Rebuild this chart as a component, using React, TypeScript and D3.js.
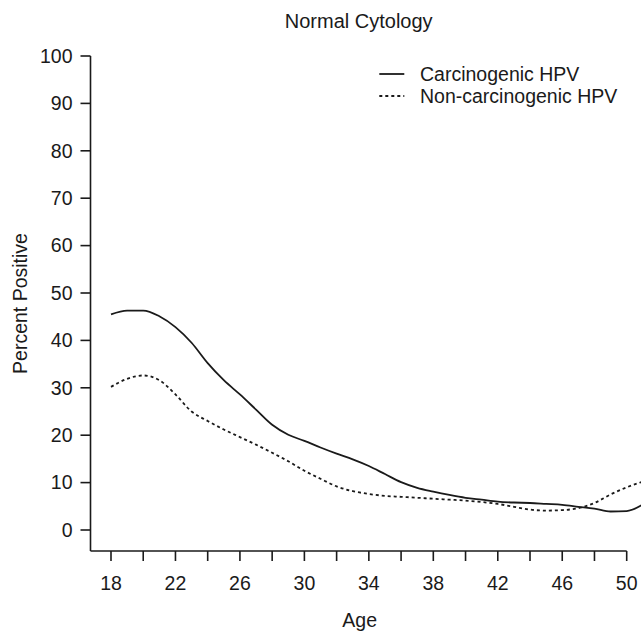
import React from "react";
import * as d3 from "d3";

const ages = [18,19,20,21,22,23,24,25,26,27,28,29,30,31,32,33,34,35,36,37,38,39,40,41,42,43,44,45,46,47,48,49,50,51];
const carcinogenic = [45.5,46.3,46.3,45.1,42.8,39.5,35.2,31.6,28.6,25.4,22.2,20.1,18.8,17.4,16.1,14.9,13.5,11.8,10.1,8.9,8.1,7.4,6.8,6.4,6.0,5.8,5.7,5.5,5.3,4.9,4.5,3.9,4.0,5.4];
const nonCarcinogenic = [30.2,31.9,32.6,31.6,28.6,25.0,23.0,21.2,19.6,18.0,16.3,14.5,12.5,10.8,9.2,8.2,7.6,7.2,7.0,6.8,6.6,6.4,6.2,5.9,5.5,4.9,4.3,4.1,4.2,4.6,5.7,7.5,9.0,10.2];
const xTicks = [18,20,22,24,26,28,30,32,34,36,38,40,42,44,46,48,50];
const xLabels = [18,22,26,30,34,38,42,46,50];
const yTicks = [0,10,20,30,40,50,60,70,80,90,100];
const seriesNames = ["Carcinogenic HPV", "Non-carcinogenic HPV"];

const W = 641, H = 632;
const font = "'Liberation Sans', Arial, Helvetica, sans-serif";
const ink = "#1a1a1a";

export default function App() {
  const x = d3.scaleLinear().domain([18, 50]).range([111, 626.7]);
  const y = d3.scaleLinear().domain([0, 100]).range([530, 56]);
  const axisY = 551;
  const axisX = 90.5;
  const line = d3.line<[number, number]>()
    .x(d => x(d[0]))
    .y(d => y(d[1]))
    .curve(d3.curveMonotoneX);
  const d1 = line(ages.map((a, i) => [a, carcinogenic[i]] as [number, number])) || "";
  const d2 = line(ages.map((a, i) => [a, nonCarcinogenic[i]] as [number, number])) || "";

  return (
    <svg width={W} height={H} style={{ position: "absolute", left: 0, top: 0, background: "#fff" }} fontFamily={font}>
      <rect width={W} height={H} fill="#fff" />
      <text x={358.7} y={28} textAnchor="middle" fontSize={20} fill={ink}>Normal Cytology</text>
      {/* y axis */}
      <line x1={axisX} x2={axisX} y1={y(100)} y2={axisY} stroke={ink} strokeWidth={1.6} />
      {yTicks.map(t => (
        <g key={t}>
          <line x1={axisX - 10} x2={axisX} y1={y(t)} y2={y(t)} stroke={ink} strokeWidth={1.6} />
          <text x={axisX - 18} y={y(t)} dy="0.35em" textAnchor="end" fontSize={19.5} fill={ink}>{t}</text>
        </g>
      ))}
      {/* x axis */}
      <line x1={axisX} x2={x(50)} y1={axisY} y2={axisY} stroke={ink} strokeWidth={1.6} />
      {xTicks.map(t => (
        <line key={t} x1={x(t)} x2={x(t)} y1={axisY} y2={axisY + 10} stroke={ink} strokeWidth={1.6} />
      ))}
      {xLabels.map(t => (
        <text key={t} x={x(t)} y={590} textAnchor="middle" fontSize={19.5} fill={ink}>{t}</text>
      ))}
      <text x={359.7} y={627} textAnchor="middle" fontSize={19.5} fill={ink}>Age</text>
      <text transform={`translate(27,${(y(100) + axisY) / 2}) rotate(-90)`} textAnchor="middle" fontSize={19.5} fill={ink}>Percent Positive</text>
      {/* lines */}
      <path d={d1} fill="none" stroke={ink} strokeWidth={1.8} />
      <path d={d2} fill="none" stroke={ink} strokeWidth={1.8} strokeDasharray="3,3" />
      {/* legend */}
      <line x1={379.3} x2={404.3} y1={74} y2={74} stroke={ink} strokeWidth={1.8} />
      <text x={420} y={74} dy="0.35em" fontSize={19.5} fill={ink}>{seriesNames[0]}</text>
      <line x1={379.3} x2={404.3} y1={96} y2={96} stroke={ink} strokeWidth={1.8} strokeDasharray="3,3" />
      <text x={420} y={96} dy="0.35em" fontSize={19.5} fill={ink}>{seriesNames[1]}</text>
    </svg>
  );
}
